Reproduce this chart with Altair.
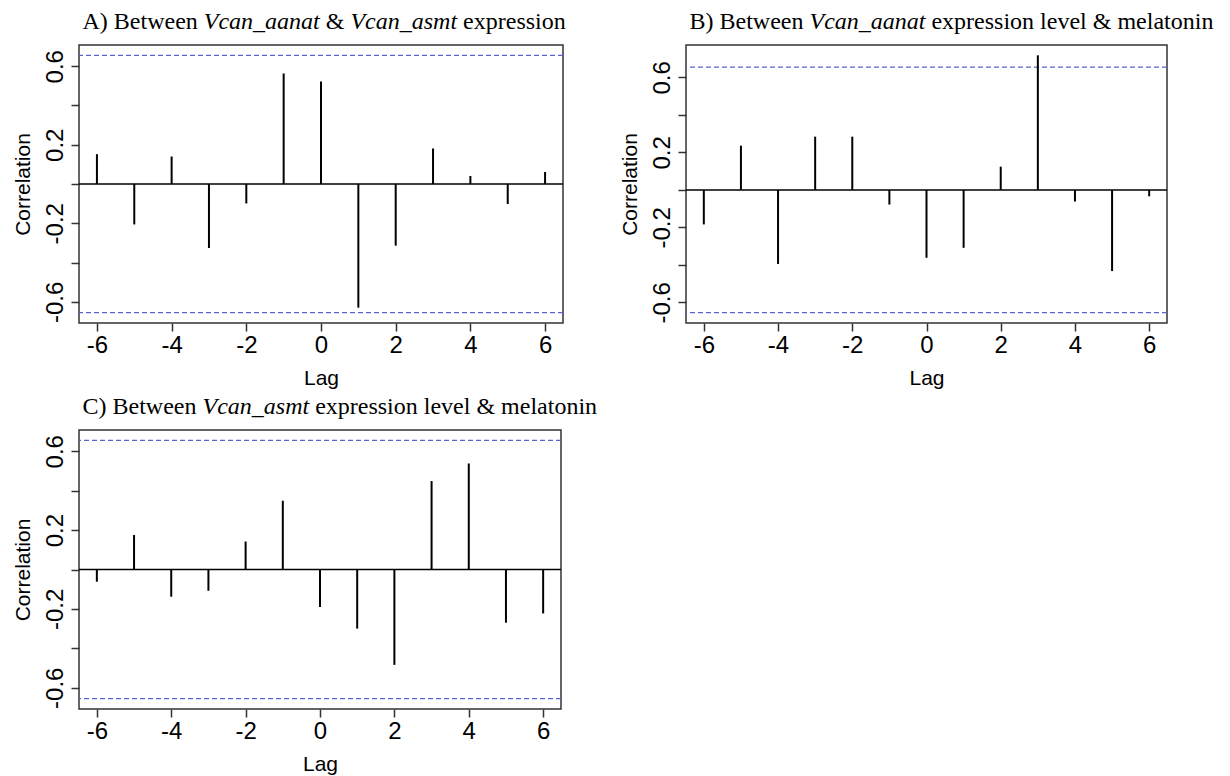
import altair as alt
import pandas as pd

# ---- data ----
lags = [-6, -5, -4, -3, -2, -1, 0, 1, 2, 3, 4, 5, 6]
ccf_a = [0.152, -0.206, 0.140, -0.326, -0.099, 0.563, 0.522, -0.630, -0.314, 0.181, 0.041, -0.102, 0.061]
ccf_b = [-0.184, 0.236, -0.395, 0.284, 0.284, -0.078, -0.362, -0.309, 0.124, 0.718, -0.062, -0.433, -0.034]
ccf_c = [-0.062, 0.175, -0.138, -0.108, 0.142, 0.349, -0.190, -0.300, -0.484, 0.449, 0.538, -0.270, -0.223]
ci_level = 0.655
y_ticks = [-0.6, -0.4, -0.2, 0.0, 0.2, 0.4, 0.6]
x_ticks = [-6, -4, -2, 0, 2, 4, 6]

title_a = [("A) Between", False), ("Vcan_aanat", True), ("&", False), ("Vcan_asmt", True), ("expression", False)]
title_b = [("B) Between", False), ("Vcan_aanat", True), ("expression level & melatonin", False)]
title_c = [("C) Between", False), ("Vcan_asmt", True), ("expression level & melatonin", False)]

# ---- Times (Liberation Serif) advance widths for laying out mixed-style titles ----
REG = {' ': 250, 'A': 722, 'B': 667, 'C': 667, ')': 333, 'e': 444, 't': 278, 'w': 722, 'n': 500,
       '&': 778, 'x': 500, 'p': 500, 'r': 333, 's': 389, 'i': 278, 'o': 500, 'l': 278, 'v': 500,
       'm': 778, 'a': 444}
ITA = {'V': 611, 'c': 444, 'a': 500, 'n': 500, '_': 500, 's': 389, 'm': 722, 't': 278}
TFS = 24


def text_width(s, italic):
    table = ITA if italic else REG
    return sum(table.get(ch, 500) for ch in s) * TFS / 1000.0


SERIF = "Liberation Serif"
SANS = "Liberation Sans"
DASH_COLOR = "#5a64d2"

x_label_expr = "(datum.value < 0 ? '-' : '') + abs(datum.value)"
y_label_expr = ("(abs(abs(datum.value) - 0.6) < 0.01 || abs(abs(datum.value) - 0.2) < 0.01) ? "
                "((datum.value < 0 ? '-' : '') + format(abs(datum.value), '.1f')) : ''")


def panel(vals, segs, ydomain, w, h):
    df = pd.DataFrame({"lag": lags, "r": vals})
    xs = alt.Scale(domain=[-6.48, 6.48], nice=False, zero=False)
    ys = alt.Scale(domain=ydomain, nice=False, zero=False)
    xax = alt.Axis(values=x_ticks, labelExpr=x_label_expr, title="Lag", grid=False, domain=False,
                   tickSize=8, tickWidth=1.5, tickColor="#333333", labelPadding=2,
                   labelFont=SANS, labelFontSize=24, labelColor="black", labelOverlap=False,
                   labelFlush=False, titleFont=SANS, titleFontSize=21, titleFontWeight="normal",
                   titleColor="black", titleY=55, titleX=w / 2, titleBaseline="middle")
    yax = alt.Axis(values=y_ticks, labelExpr=y_label_expr, title="Correlation", grid=False, domain=False,
                   tickSize=8, tickWidth=1.5, tickColor="#333333", labelPadding=9,
                   labelFont=SANS, labelFontSize=24, labelColor="black", labelAngle=-90,
                   labelAlign="center", labelBaseline="alphabetic", labelOverlap=False, labelFlush=False,
                   titleFont=SANS, titleFontSize=21, titleFontWeight="normal", titleColor="black",
                   titleX=-56, titleY=h / 2, titleBaseline="middle", titleAlign="center", titleAngle=270)

    ci = alt.Chart(pd.DataFrame({"r": [ci_level, -ci_level]})).mark_rule(
        color=DASH_COLOR, strokeDash=[5, 3], strokeWidth=1.2
    ).encode(y=alt.Y("r:Q", scale=ys, axis=yax))
    zero = alt.Chart(pd.DataFrame({"r": [0.0]})).mark_rule(
        color="black", strokeWidth=1.5
    ).encode(y=alt.Y("r:Q", scale=ys, axis=yax))
    spikes = alt.Chart(df).mark_rule(color="black", strokeWidth=2).encode(
        x=alt.X("lag:Q", scale=xs, axis=xax),
        y=alt.Y("r:Q", scale=ys, axis=yax),
        y2=alt.datum(0),
    )
    layers = [ci, zero, spikes]
    xpos = 3.5
    space = REG[' '] * TFS / 1000.0
    for s, it in segs:
        layers.append(
            alt.Chart(pd.DataFrame({"t": [s]})).mark_text(
                align="left", baseline="alphabetic", font=SERIF, fontSize=TFS,
                fontStyle="italic" if it else "normal", color="black"
            ).encode(text="t:N", x=alt.value(xpos), y=alt.value(-16))
        )
        xpos += text_width(s, it) + space
    return alt.layer(*layers).properties(width=w, height=h)


pa = panel(ccf_a, title_a, [-0.708, 0.708], 484, 278)
pb = panel(ccf_b, title_b, [-0.710, 0.773], 481, 278)
pc = panel(ccf_c, title_c, [-0.708, 0.708], 482, 279)

chart = alt.concat(
    pa, pb, pc, columns=2, spacing={"row": 107, "column": 123}, bounds="flush"
).properties(
    padding={"left": 3, "top": 1, "right": 5, "bottom": 0},
    background="white",
).configure_view(stroke="#333333", strokeWidth=1.5)

chart.save("out.html", embed_options={"renderer": "svg", "actions": False})
